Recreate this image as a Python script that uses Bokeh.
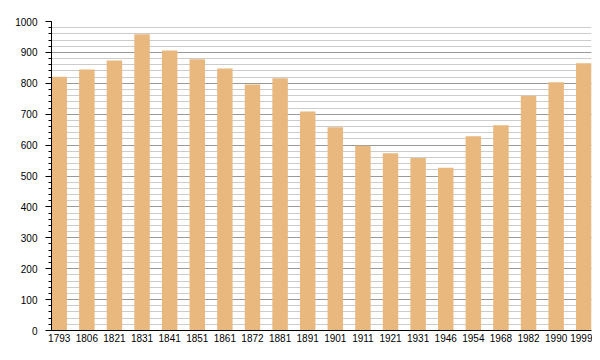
from bokeh.plotting import figure
from bokeh.models import Range1d, FixedTicker, SingleIntervalTicker, ColumnDataSource
from bokeh.embed import file_html
from bokeh.resources import INLINE

years = ["1793", "1806", "1821", "1831", "1841", "1851", "1861", "1872", "1881", "1891",
         "1901", "1911", "1921", "1931", "1946", "1954", "1968", "1982", "1990", "1999"]
population = [821, 845, 874, 959, 906, 878, 848, 796, 816, 709,
              658, 598, 574, 558, 527, 629, 664, 760, 803, 865]

idx = list(range(len(years)))
bar_w = 0.56

src = ColumnDataSource(data=dict(x=idx, top=population, year=years))

p = figure(width=592, height=352, output_backend="svg", toolbar_location=None,
           x_range=Range1d(-bar_w / 2, len(years) - 1 + bar_w / 2),
           y_range=Range1d(0, 1000),
           min_border_left=51, min_border_right=1, min_border_top=21, min_border_bottom=22)
p.outline_line_color = None
p.background_fill_color = "white"
p.border_fill_color = "white"

p.vbar(x="x", top="top", width=bar_w, source=src, fill_color="#E8B87F", line_color=None)

p.xgrid.grid_line_color = None
p.ygrid.ticker = SingleIntervalTicker(interval=100, num_minor_ticks=5)
p.ygrid.grid_line_color = "#999999"
p.ygrid.grid_line_width = 1
p.ygrid.minor_grid_line_color = "#cccccc"
p.ygrid.minor_grid_line_width = 1

p.yaxis.ticker = SingleIntervalTicker(interval=100, num_minor_ticks=5)
p.yaxis.axis_line_color = "black"
p.yaxis.major_tick_line_color = "black"
p.yaxis.minor_tick_line_color = "black"
p.yaxis.major_tick_out = 6
p.yaxis.major_tick_in = 0
p.yaxis.minor_tick_out = 3
p.yaxis.minor_tick_in = 0
p.yaxis.major_label_standoff = 8
p.yaxis.major_label_text_font = "Liberation Sans"
p.yaxis.major_label_text_font_size = "10px"
p.yaxis.major_label_text_color = "black"

p.xaxis.ticker = FixedTicker(ticks=idx)
p.xaxis.major_label_overrides = {i: y for i, y in zip(idx, years)}
p.xaxis.axis_line_color = "black"
p.xaxis.major_tick_line_color = None
p.xaxis.minor_tick_line_color = None
p.xaxis.major_tick_out = 0
p.xaxis.major_label_standoff = 3
p.xaxis.major_label_text_font = "Liberation Sans"
p.xaxis.major_label_text_font_size = "10px"
p.xaxis.major_label_text_color = "black"

open("out.html", "w").write(file_html(p, INLINE))
